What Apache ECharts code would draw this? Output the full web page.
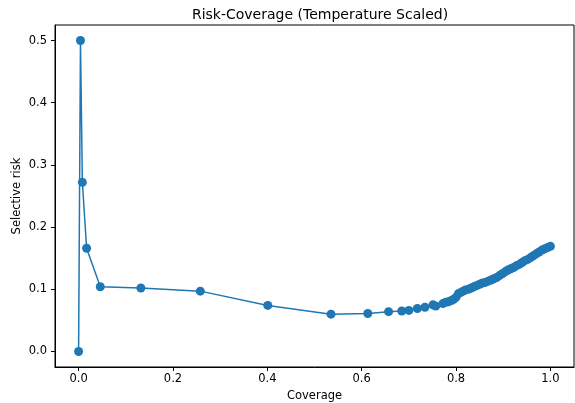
<!DOCTYPE html>
<html>
<head>
<meta charset="utf-8">
<script src="https://cdn.jsdelivr.net/npm/echarts@6/dist/echarts.min.js"></script>
<style>
  html, body { margin: 0; padding: 0; background: #fff; }
  #chart { width: 575px; height: 403px; }
</style>
</head>
<body>
<div id="chart"></div>
<script>
const FONT = 'DejaVu Sans, sans-serif'

// coverage (x) and selective risk (y)
const coverage = [
  0.000, 0.004, 0.008, 0.017, 0.046, 0.132, 0.258, 0.401, 0.535, 0.613,
  0.657, 0.685, 0.700, 0.718, 0.734, 0.751, 0.757, 0.772, 0.778, 0.784,
  0.790, 0.795, 0.800, 0.805, 0.810, 0.815, 0.820, 0.826, 0.832, 0.838,
  0.844, 0.850, 0.856, 0.862, 0.868, 0.874, 0.880, 0.886, 0.892, 0.898,
  0.904, 0.910, 0.916, 0.922, 0.928, 0.934, 0.940, 0.946, 0.952, 0.958,
  0.964, 0.970, 0.976, 0.982, 0.988, 0.994, 1.000,
]
const risk = [
  0.000, 0.500, 0.272, 0.166, 0.104, 0.102, 0.097, 0.074, 0.060, 0.061,
  0.064, 0.065, 0.066, 0.069, 0.071, 0.075, 0.073, 0.077, 0.079, 0.080,
  0.082, 0.084, 0.087, 0.093, 0.095, 0.097, 0.099, 0.100, 0.102, 0.104,
  0.106, 0.108, 0.110, 0.111, 0.113, 0.115, 0.117, 0.119, 0.122, 0.125,
  0.128, 0.131, 0.133, 0.135, 0.138, 0.140, 0.143, 0.146, 0.148, 0.151,
  0.154, 0.157, 0.160, 0.163, 0.165, 0.167, 0.169,
]
const xTicks = [0, 0.2, 0.4, 0.6, 0.8, 1.0]
const yTicks = [0, 0.1, 0.2, 0.3, 0.4, 0.5]

const myChart = echarts.init(document.getElementById('chart'))

const axisCommon = {
  axisLine: { show: true, onZero: false, lineStyle: { color: '#000', width: 1 } },
  splitLine: { show: false },
  nameMoveOverlap: false,
  nameTextStyle: { color: '#000', fontSize: 11.5, fontFamily: FONT },
}

myChart.setOption({
  animation: false,
  title: {
    text: 'Risk-Coverage (Temperature Scaled)',
    left: 315,
    textAlign: 'center',
    top: 3,
    textStyle: { fontSize: 14, fontWeight: 'normal', color: '#000', fontFamily: FONT },
  },
  grid: {
    left: 55, right: 1, top: 25, bottom: 36,
    outerBoundsMode: 'none',
    containLabel: false,
    show: true, borderColor: '#000', borderWidth: 1,
  },
  xAxis: {
    ...axisCommon,
    type: 'value',
    min: -0.05,
    max: 1.05,
    name: 'Coverage',
    nameLocation: 'middle',
    nameGap: 23,
    axisTick: { show: true, length: 4, customValues: xTicks, lineStyle: { color: '#000' } },
    axisLabel: {
      customValues: xTicks,
      margin: 6,
      color: '#000', fontSize: 11.5, fontFamily: FONT,
      formatter: (v) => v.toFixed(1),
    },
  },
  yAxis: {
    ...axisCommon,
    type: 'value',
    min: -0.025,
    max: 0.525,
    name: 'Selective risk',
    nameLocation: 'middle',
    nameGap: 32,
    axisTick: { show: true, length: 4, customValues: yTicks, lineStyle: { color: '#000' } },
    axisLabel: {
      customValues: yTicks,
      margin: 8,
      color: '#000', fontSize: 11.5, fontFamily: FONT,
      formatter: (v) => v.toFixed(1),
    },
  },
  series: [{
    type: 'line',
    data: coverage.map((c, i) => [c, risk[i]]),
    symbol: 'circle',
    symbolSize: 9,
    showAllSymbol: true,
    lineStyle: { color: '#1f77b4', width: 1.5 },
    itemStyle: { color: '#1f77b4' },
  }],
})
</script>
</body>
</html>
